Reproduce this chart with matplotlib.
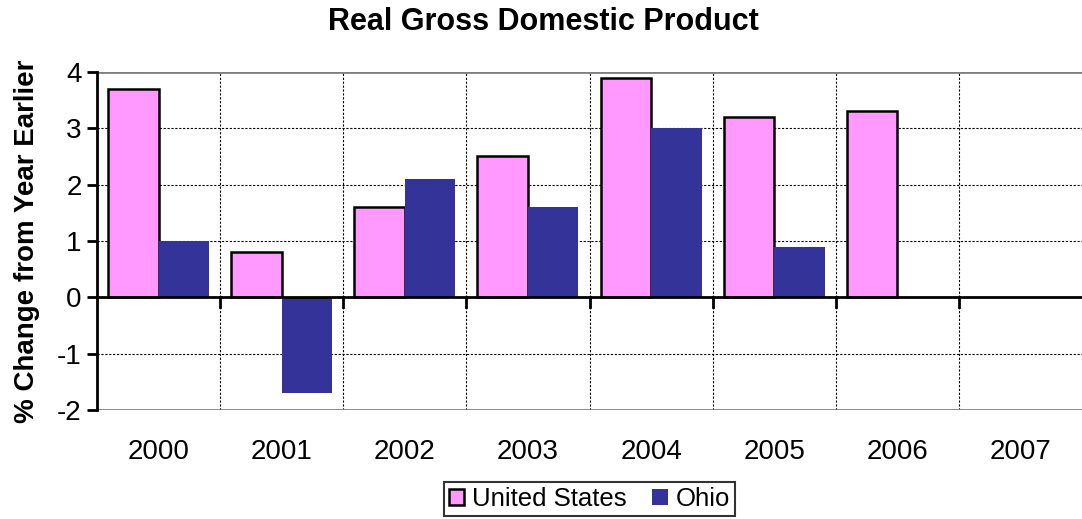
# PIB real: EUA vs Ohio, barras agrupadas no estilo Excel
import matplotlib.pyplot as plt
import numpy as np

plt.rcParams["font.family"] = ["Liberation Sans", "DejaVu Sans"]

anos = ["2000", "2001", "2002", "2003", "2004", "2005", "2006", "2007"]
eua = [3.7, 0.8, 1.6, 2.5, 3.9, 3.2, 3.3, np.nan]
ohio = [1.0, -1.7, 2.1, 1.6, 3.0, 0.9, np.nan, np.nan]

fig = plt.figure(figsize=(10.82, 5.19), dpi=100)
axe = fig.add_axes([97 / 1082, 1 - 410 / 519, 1 - 97 / 1082, (410 - 72) / 519])

x = np.arange(len(anos))
w = 0.41
axe.bar(x - w / 2, eua, w, color="#FF99FF", edgecolor="black", lw=1.8,
        label="United States", zorder=3)
axe.bar(x + w / 2, ohio, w, color="#333399", edgecolor="none",
        label="Ohio", zorder=3)

axe.set_xlim(-0.5, len(anos) - 0.5)
axe.set_ylim(-2, 4)
axe.set_yticks(np.arange(-2, 5, 1))

# grade tracejada
for yv in [-1, 1, 2, 3]:
    axe.axhline(yv, color="black", lw=0.8, ls=(0, (2, 1.5)), zorder=1)
for xv in np.arange(0.5, len(anos) - 0.5, 1):
    axe.axvline(xv, color="black", lw=0.8, ls=(0, (2, 1.5)), zorder=1)
axe.axhline(4, color="gray", lw=2, zorder=2)
axe.axhline(-2, color="gray", lw=2, zorder=2)
axe.axhline(0, color="black", lw=2, zorder=4)

# ticks do eixo x na linha do zero, entre as categorias
for xv in np.arange(0.5, len(anos) - 0.5, 1):
    axe.plot([xv, xv], [0, -0.17], color="black", lw=2, zorder=4,
             clip_on=False)

for s in ["top", "right", "bottom"]:
    axe.spines[s].set_visible(False)
axe.spines["left"].set_linewidth(2)

axe.set_xticks(x)
axe.set_xticklabels(anos, fontsize=20)
axe.tick_params(axis="x", length=0, pad=21)
axe.tick_params(axis="y", labelsize=20, length=7, width=2, pad=4)
axe.set_yticklabels([str(v) for v in range(-2, 5)])

axe.set_ylabel("% Change from Year Earlier", fontsize=20, fontweight="bold",
               labelpad=12)
axe.set_title("Real Gross Domestic Product", fontsize=22, fontweight="bold",
              pad=30, x=0.453)

leg = axe.legend(loc="lower center", bbox_to_anchor=(0.5, -0.315), ncol=2,
                 fontsize=18.5, frameon=True, fancybox=False, handlelength=0.6,
                 handleheight=0.6, handletextpad=0.3, columnspacing=1.0,
                 borderpad=0.2, borderaxespad=0)
leg.get_frame().set_edgecolor("black")
leg.get_frame().set_linewidth(1.5)

plt.savefig("out.png", dpi=100)
